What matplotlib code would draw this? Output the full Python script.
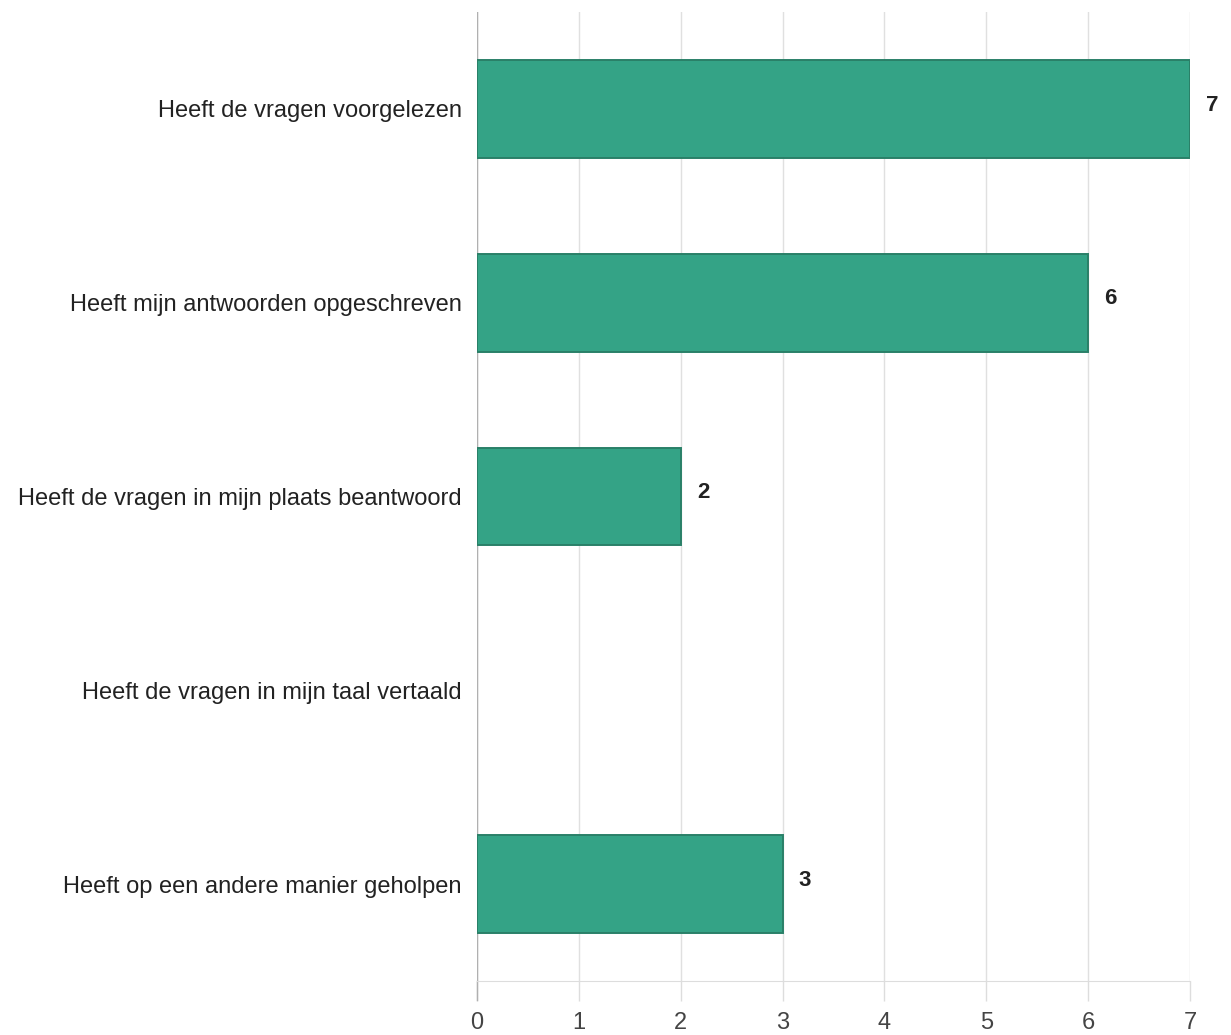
import matplotlib
matplotlib.use("Agg")
import matplotlib.pyplot as plt

categories = [
    "Heeft de vragen voorgelezen",
    "Heeft mijn antwoorden opgeschreven",
    "Heeft de vragen in mijn plaats beantwoord",
    "Heeft de vragen in mijn taal vertaald",
    "Heeft op een andere manier geholpen",
]
values = [7, 6, 2, 0, 3]
xticks = [0, 1, 2, 3, 4, 5, 6, 7]

plt.rcParams['font.family'] = ['Liberation Sans', 'DejaVu Sans']

fig = plt.figure(figsize=(12.31, 10.35), dpi=100)
ax = fig.add_axes([477/1231, 1-981/1035, (1190-477)/1231, (981-12)/1035])

ypos = list(range(len(categories)))
for y, v in zip(ypos, values):
    if v > 0:
        ax.barh(y, v, height=0.505, color='#34a386', edgecolor='#2a8068', linewidth=1.4, zorder=3)
        ax.text(v + 0.16, y - 0.02, str(v), va='center', ha='left', fontsize=16,
                fontweight='bold', color='#222222', zorder=4)

ax.set_xlim(0, 7)
ax.set_ylim(len(categories) - 0.5, -0.5)
ax.set_yticks(ypos)
ax.set_yticklabels(categories, fontsize=17, color='#222222')
ax.set_xticks(xticks)
ax.set_xticklabels([str(t) for t in xticks], fontsize=17, color='#444444')
ax.tick_params(axis='y', length=0, pad=11)
ax.tick_params(axis='x', length=14.5, width=1, color='#dddddd', pad=8)
ax.grid(axis='x', color='#e0e0e0', linewidth=1, zorder=0)
for s in ['top', 'right', 'left']:
    ax.spines[s].set_visible(False)
ax.spines['bottom'].set_color('#dddddd')
ax.axvline(0, color='#b0b0b0', linewidth=1, zorder=2)
ax.plot([0, 0], [len(categories) - 0.5, len(categories) - 0.5 + 0.1], color='#b0b0b0',
        lw=1, clip_on=False)

fig.savefig("out.png", dpi=100)
